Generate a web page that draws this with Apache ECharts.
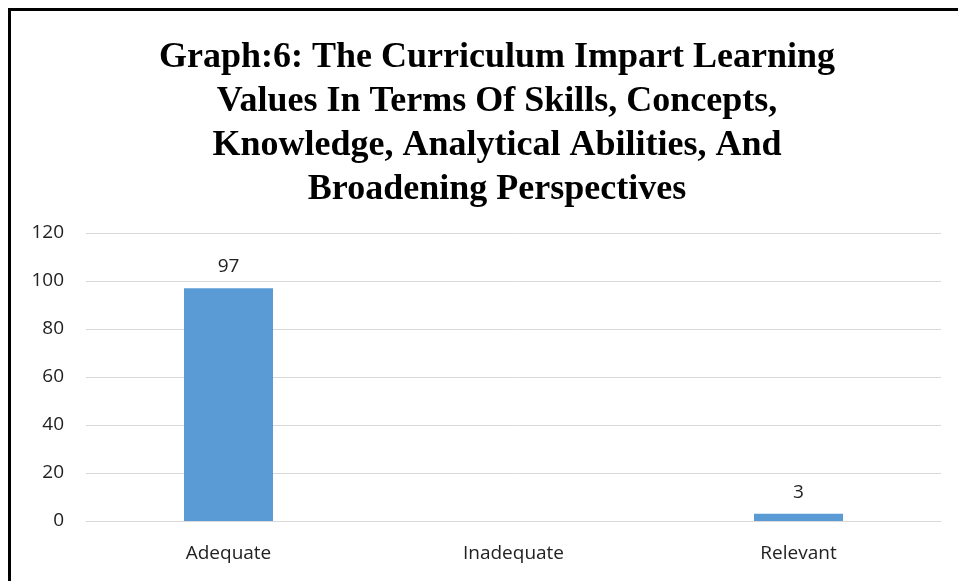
<!DOCTYPE html>
<html>
<head>
<meta charset="utf-8">
<script src="https://cdn.jsdelivr.net/npm/echarts@6/dist/echarts.min.js"></script>
<style>
  html, body { margin: 0; padding: 0; background: #fff; }
  #main { width: 958px; height: 581px; }
</style>
</head>
<body>
<div id="main"></div>
<script>
const categories = ["Adequate", "Inadequate", "Relevant"];
const values = [97, null, 3];
const yTicks = [0, 20, 40, 60, 80, 100, 120];

const myChart = echarts.init(document.getElementById("main"));
myChart.setOption({
  animation: false,
  title: {
    text: "Graph:6: The Curriculum Impart Learning\nValues In Terms Of Skills, Concepts,\nKnowledge, Analytical Abilities, And\nBroadening Perspectives",
    left: 492,
    textAlign: "center",
    top: 31,
    textStyle: {
      fontFamily: "Liberation Serif",
      fontWeight: "bold",
      fontSize: 36,
      lineHeight: 44,
      color: "#000",
    },
  },
  graphic: [
    {
      type: "rect",
      shape: { x: 9.5, y: 9.5, width: 980, height: 620 },
      style: { fill: "none", stroke: "#000", lineWidth: 3 },
      silent: true,
    },
  ],
  grid: {
    left: 86,
    right: 17,
    top: 233,
    bottom: 60,
  },
  xAxis: {
    type: "category",
    data: categories,
    axisLine: { lineStyle: { color: "#d9d9d9", width: 1 } },
    axisTick: { show: false },
    axisLabel: {
      margin: 23,
      fontFamily: "Open Sans",
      fontSize: 19,
      color: "#222",
    },
  },
  yAxis: {
    type: "value",
    min: yTicks[0],
    max: yTicks[yTicks.length - 1],
    interval: 20,
    axisLine: { show: false },
    axisTick: { show: false },
    splitLine: { lineStyle: { color: "#d9d9d9", width: 1 } },
    axisLabel: {
      margin: 22,
      fontFamily: "Open Sans",
      fontSize: 19,
      color: "#222",
    },
  },
  series: [
    {
      type: "bar",
      data: values,
      barWidth: 89,
      itemStyle: { color: "#5b9bd5" },
      label: {
        show: true,
        position: "top",
        distance: 12,
        fontFamily: "Open Sans",
        fontSize: 19,
        color: "#222",
      },
    },
  ],
});

window.addEventListener("resize", function () {
  myChart.resize();
});
</script>
</body>
</html>
